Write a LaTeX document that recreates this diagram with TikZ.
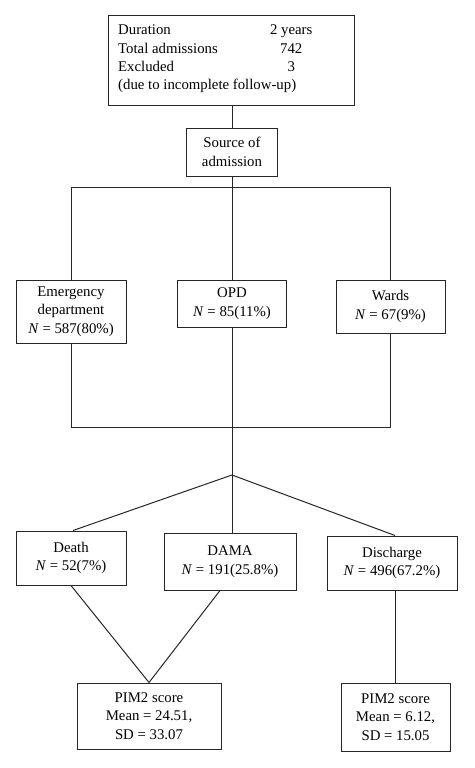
\documentclass[tikz,border=0pt]{standalone}
\usepackage{fontspec}
\setmainfont{Liberation Serif}
\begin{document}
\begin{tikzpicture}[x=1pt,y=-1pt,
  box/.style={draw=black!85, line width=1pt, inner sep=0pt, align=center,
    font=\fontsize{14.8}{18.5}\selectfont},
  link/.style={draw=black!85, line width=1pt}]
\useasboundingbox (0,0) rectangle (474,768);
% top box
\node[box, minimum width=246pt, minimum height=89pt] (top) at (231,60.5) {};
\node[inner sep=0pt, anchor=west, align=left, font=\fontsize{14.8}{18.3}\selectfont] (info) at (118,59)
 {\makebox[139pt][l]{Duration}\makebox[68pt]{2 years}\\
  \makebox[139pt][l]{Total admissions}\makebox[68pt]{742}\\
  \makebox[139pt][l]{Excluded}\makebox[68pt]{3}\\
  (due to incomplete follow-up)};
\node[box, minimum width=91pt, minimum height=48pt] (src) at (232,152) {Source of\\admission};
% sources
\node[box, minimum width=110pt, minimum height=63pt] (em) at (71,311.5) {Emergency\\department\\\textit{N}~=~587(80\%)};
\node[box, minimum width=109pt, minimum height=47pt] (opd) at (232,303.5) {OPD\\\textit{N}~=~85(11\%)};
\node[box, minimum width=109pt, minimum height=53pt] (wards) at (390.5,306.5) {Wards\\\textit{N}~=~67(9\%)};
% outcomes
\node[box, minimum width=110pt, minimum height=54pt] (death) at (71,558) {Death\\\textit{N}~=~52(7\%)};
\node[box, minimum width=132pt, minimum height=57pt] (dama) at (230,561.5) {DAMA\\\textit{N}~=~191(25.8\%)};
\node[box, minimum width=130pt, minimum height=54pt] (disch) at (392,563) {Discharge\\\textit{N}~=~496(67.2\%)};
% PIM2
\node[box, minimum width=144pt, minimum height=66pt] (pimA) at (149,716) {PIM2 score\\Mean = 24.51,\\SD = 33.07};
\node[box, minimum width=109pt, minimum height=68pt] (pimB) at (395.5,717) {PIM2 score\\Mean = 6.12,\\SD = 15.05};
% junctions
\coordinate (j1) at (232,187);
\coordinate (j3) at (232,475);
\coordinate (jl) at (71,187);
\coordinate (jr) at (390.5,187);
\coordinate (kl) at (71,427);
\coordinate (kr) at (390.5,427);
% connectors
\draw[link] (top.south -| src.north) -- (src.north);
\draw[link] (src.south) -- (j1);
\draw[link] (jl) -- (jr);
\draw[link] (jl) -- (em.north);
\draw[link] (j1) -- (opd.north);
\draw[link] (jr) -- (wards.north);
\draw[link] (em.south) -- (kl) -- (kr) -- (wards.south);
\draw[link] (opd.south) -- (j3);
\draw[link] (j3) -- ([xshift=2pt]death.north);
\draw[link] (j3) -- ([xshift=2pt]dama.north);
\draw[link] (j3) -- ([xshift=3pt]disch.north);
\draw[link] (death.south) -- (pimA.north);
\draw[link] ([xshift=-10pt]dama.south) -- (pimA.north);
\draw[link] (pimB.north |- disch.south) -- (pimB.north);
\end{tikzpicture}
\end{document}
